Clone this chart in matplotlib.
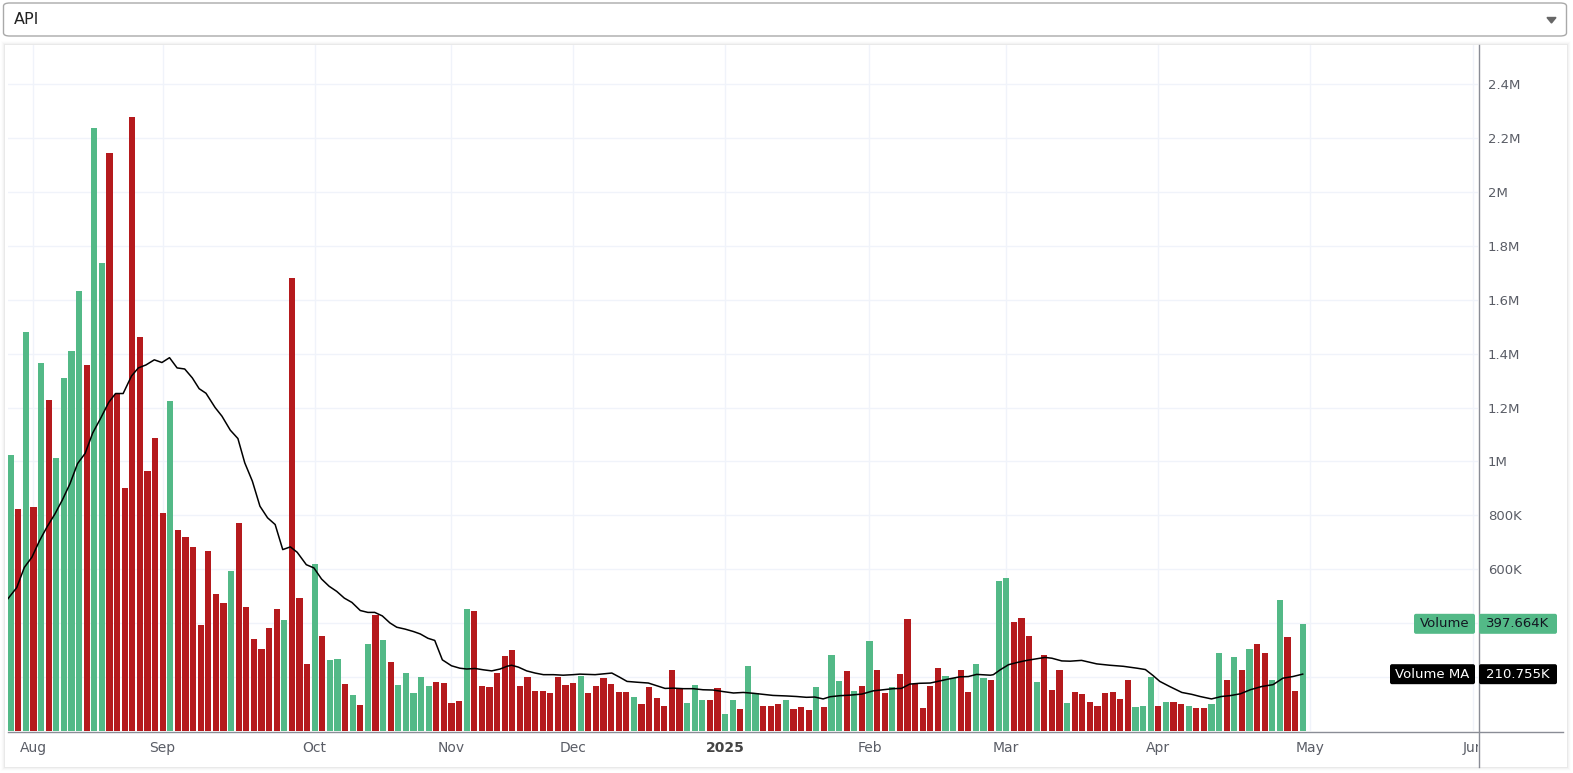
import numpy as np
import matplotlib
matplotlib.use('Agg')
import matplotlib.pyplot as plt
from matplotlib.patches import Rectangle, FancyBboxPatch, Polygon
from matplotlib.lines import Line2D
from matplotlib.ticker import FuncFormatter
from matplotlib.transforms import IdentityTransform, Bbox

# daily volume, millions of shares (one bar per session)
vol = [1.023, 0.822, 1.479, 0.831, 1.364, 1.229, 1.012, 1.308, 1.408, 1.631,
       1.356, 2.236, 1.736, 2.144, 1.249, 0.900, 2.277, 1.460, 0.964, 1.086,
       0.807, 1.226, 0.746, 0.719, 0.682, 0.392, 0.669, 0.509, 0.476, 0.595,
       0.773, 0.461, 0.342, 0.305, 0.383, 0.454, 0.413, 1.680, 0.494, 0.249,
       0.621, 0.353, 0.264, 0.268, 0.175, 0.134, 0.097, 0.323, 0.431, 0.336,
       0.255, 0.172, 0.216, 0.142, 0.201, 0.168, 0.183, 0.179, 0.105, 0.112,
       0.453, 0.446, 0.168, 0.164, 0.216, 0.279, 0.301, 0.168, 0.201, 0.149,
       0.149, 0.142, 0.201, 0.172, 0.179, 0.205, 0.142, 0.168, 0.198, 0.175,
       0.146, 0.146, 0.127, 0.101, 0.164, 0.123, 0.094, 0.227, 0.157, 0.105,
       0.172, 0.116, 0.116, 0.160, 0.064, 0.116, 0.083, 0.242, 0.142, 0.094,
       0.094, 0.101, 0.116, 0.083, 0.090, 0.079, 0.164, 0.090, 0.283, 0.186,
       0.223, 0.149, 0.168, 0.335, 0.227, 0.142, 0.164, 0.212, 0.416, 0.175,
       0.086, 0.168, 0.235, 0.205, 0.196, 0.227, 0.146, 0.249, 0.198, 0.190,
       0.557, 0.568, 0.405, 0.420, 0.353, 0.183, 0.283, 0.153, 0.227, 0.105,
       0.146, 0.138, 0.109, 0.094, 0.142, 0.146, 0.120, 0.190, 0.090, 0.094,
       0.201, 0.094, 0.109, 0.109, 0.101, 0.094, 0.086, 0.086, 0.101, 0.290,
       0.190, 0.275, 0.227, 0.305, 0.323, 0.290, 0.190, 0.486, 0.349, 0.149,
       0.398]
# G = up day, R = down day
updown = ("GRGRGRGGGG" "RGGRRRRRRR" "RGRRRRRRRG" "RRRRRRGRRR" "GRGGRGRGRG"
          "RGGGGGRRRR" "GRRRRRRRRR" "RRRRRGRRRR" "RRGRRRRRRG" "GGRRGGRGGR"
          "RRGRRRGRGG" "RGRGRRGRRR" "RRRGGRRGGR" "GGRRRGRRRG" "RRRRRRRRGG"
          "GRGRRGRRGG" "RGRGRRGGRR" "G")

# volume moving average (bar position, millions)
ma_x = [-0.35, 0.8, 1.8, 2.8, 3.8, 4.8, 5.8, 6.8, 7.8, 8.8, 9.8, 10.8, 11.8,
        12.9, 13.8, 14.8, 15.9, 16.8, 17.8, 18.9, 19.9, 20.9, 21.9, 22.9,
        23.9, 24.8, 25.7, 26.9, 27.8, 28.9, 29.9, 30.8, 31.8, 32.8, 33.8,
        34.8, 35.8, 36.8, 37.7, 38.9, 39.9, 40.9, 41.9, 42.9, 43.9, 44.9,
        46.0, 47.0, 47.9, 48.9, 49.9, 50.8, 51.9, 53.0, 53.9, 54.9, 55.8,
        56.8, 58.0, 59.1, 60.0, 61.1, 62.2, 63.3, 64.4, 65.3, 65.9, 66.8,
        67.9, 69.0, 70.1, 71.4, 72.7, 74.0, 74.9, 76.9, 78.0, 79.1, 80.1,
        81.1, 82.4, 83.9, 85.0, 86.1, 87.2, 88.5, 89.8, 91.1, 92.4, 93.8,
        95.1, 96.4, 97.7, 99.9, 100.3, 102.1, 103.4, 104.7, 105.8, 106.9,
        107.8, 109.1, 110.4, 112.0, 113.5, 114.8, 116.1, 117.2, 118.3, 119.6,
        121.0, 122.3, 123.6, 124.9, 126.0, 127.1, 128.9, 129.3, 130.2, 131.3,
        132.4, 133.7, 135.0, 136.1, 137.0, 138.3, 139.4, 140.9, 142.9, 144.6,
        146.4, 148.2, 149.3, 150.3, 151.2, 152.5, 154.1, 155.4, 156.5, 158.0,
        159.3, 160.4, 161.8, 163.1, 164.6, 166.1, 167.4, 168.7, 170.0]
ma_v = [0.491, 0.532, 0.607, 0.645, 0.706, 0.758, 0.804, 0.857, 0.917, 0.992,
        1.030, 1.106, 1.158, 1.219, 1.252, 1.252, 1.317, 1.347, 1.358, 1.377,
        1.367, 1.385, 1.347, 1.343, 1.310, 1.270, 1.253, 1.200, 1.168, 1.116,
        1.085, 0.995, 0.927, 0.834, 0.791, 0.766, 0.673, 0.683, 0.663, 0.617,
        0.605, 0.564, 0.537, 0.518, 0.493, 0.477, 0.447, 0.440, 0.440, 0.427,
        0.401, 0.385, 0.378, 0.369, 0.360, 0.344, 0.336, 0.264, 0.242, 0.233,
        0.230, 0.232, 0.227, 0.223, 0.230, 0.240, 0.244, 0.237, 0.223, 0.215,
        0.209, 0.209, 0.207, 0.209, 0.211, 0.209, 0.212, 0.215, 0.200, 0.184,
        0.181, 0.178, 0.168, 0.158, 0.159, 0.157, 0.157, 0.153, 0.152, 0.146,
        0.141, 0.143, 0.140, 0.133, 0.132, 0.130, 0.128, 0.125, 0.126, 0.119,
        0.127, 0.131, 0.133, 0.137, 0.149, 0.153, 0.157, 0.158, 0.174, 0.177,
        0.178, 0.186, 0.194, 0.201, 0.202, 0.210, 0.207, 0.209, 0.227, 0.246,
        0.254, 0.262, 0.268, 0.273, 0.270, 0.260, 0.259, 0.262, 0.249, 0.244,
        0.240, 0.233, 0.228, 0.206, 0.184, 0.165, 0.143, 0.136, 0.128, 0.119,
        0.128, 0.131, 0.138, 0.153, 0.165, 0.172, 0.196, 0.202, 0.211]

month_pos = [3, 20, 40, 58, 74, 94, 113, 131, 151, 171, 192.4]
month_lab = ['Aug', 'Sep', 'Oct', 'Nov', 'Dec', '2025', 'Feb', 'Mar', 'Apr', 'May', 'Jun']

last_vol = 0.397664
last_ma = 0.210755

W, H = 1573, 773
GREEN = '#53b987'
RED = '#b51a1d'
GRID = '#f0f3fa'
TXT = '#5a5d66'
AXR = 1478      # x of the price scale border, px
AXB = 731       # y of the time scale border, px

fig = plt.figure(figsize=(W / 100, H / 100), dpi=100)
fig.patch.set_facecolor('white')

def fx(x):
    return x / W

def fy(y):
    return 1 - y / H

# dropdown on top
dd = FancyBboxPatch((fx(3.5), fy(36)), fx(1563), 33 / H,
                    boxstyle='round,pad=0,rounding_size=0.004',
                    transform=fig.transFigure, facecolor='white',
                    edgecolor='#a9a9a9', lw=1)
fig.patches.append(dd)
fig.text(fx(14), fy(20), 'API', fontsize=11.5, color='#222222',
         va='center', ha='left', family='DejaVu Sans')
fig.patches.append(Polygon([[fx(1547), fy(17.5)], [fx(1556), fy(17.5)],
                            [fx(1551.5), fy(23)]], closed=True,
                           transform=fig.transFigure, color='#666666'))

# card with soft shadow
for k, a in enumerate([0.10, 0.06, 0.035, 0.02]):
    d = k + 1
    fig.patches.append(Rectangle((fx(5 - d), fy(767 + d)), (1562 + 2 * d) / W,
                                 (722 + 2 * d) / H, transform=fig.transFigure,
                                 facecolor='#9a9a9a', alpha=a, lw=0, zorder=-3))
fig.patches.append(Rectangle((fx(5), fy(767)), 1562 / W, 722 / H,
                             transform=fig.transFigure, facecolor='white',
                             lw=0, zorder=-2))

ax = fig.add_axes([fx(8), fy(AXB), (AXR - 8) / W, (AXB - 45) / H])
ax.set_facecolor('none')

x = np.arange(len(vol))
cols = [GREEN if c == 'G' else RED for c in updown]
ax.bar(x, vol, width=0.8, color=cols, zorder=2)
ax.plot(ma_x, ma_v, color='black', lw=1.1, zorder=3)

ax.set_xlim(-0.35, (AXR - 10.7) / 7.6)
ax.set_ylim(0, 2.545)

ax.set_xticks(month_pos)
ax.set_xticklabels([])
ax.set_yticks(np.arange(0.2, 2.41, 0.2))
ax.grid(True, color=GRID, lw=1, zorder=0)
ax.yaxis.tick_right()

def fmt(v, pos):
    if v < 0.5:
        return ''
    if v >= 0.999:
        return f'{v:g}M'
    return f'{int(round(v * 1000))}K'

ax.yaxis.set_major_formatter(FuncFormatter(fmt))
ax.tick_params(axis='both', length=0)
ax.tick_params(axis='y', pad=7, labelsize=9.5, labelcolor=TXT)
for lab in ax.get_yticklabels():
    lab.set_family('DejaVu Sans')
for s in ax.spines.values():
    s.set_visible(False)

# month labels under the axis, clipped at the price scale
clip = Bbox.from_extents(0, 0, AXR, H)
for p, lab in zip(month_pos, month_lab):
    t = ax.text(p, -17 / (AXB - 45), lab, ha='center', va='center', fontsize=10,
                color=TXT if lab != '2025' else '#444444',
                fontweight='bold' if lab == '2025' else 'normal',
                family=['Liberation Sans Narrow', 'DejaVu Sans'],
                transform=ax.get_xaxis_transform(), clip_on=True)
    t.set_clip_box(clip)

# scale borders
fig.add_artist(Line2D([fx(8), fx(1563)], [fy(AXB + 0.5), fy(AXB + 0.5)],
                      transform=fig.transFigure, color='#8a8d96', lw=1))
fig.add_artist(Line2D([fx(AXR + 0.5), fx(AXR + 0.5)], [fy(45), fy(767)],
                      transform=fig.transFigure, color='#8a8d96', lw=1))

# last value labels on the price scale
idt = IdentityTransform()

def scale_label(val, name, value_txt, bg, fg, left):
    yc = ax.transData.transform((0, val))[1]
    h = 20
    fig.patches.append(FancyBboxPatch((left, yc - h / 2), AXR - 3 - left, h,
                                      boxstyle='round,pad=0,rounding_size=2',
                                      transform=idt, facecolor=bg, lw=0, zorder=5))
    fig.patches.append(FancyBboxPatch((AXR + 1, yc - h / 2), 1557 - AXR - 1, h,
                                      boxstyle='round,pad=0,rounding_size=2',
                                      transform=idt, facecolor=bg, lw=0, zorder=5))
    fig.text((left + AXR - 3) / 2 / W, yc / H, name, ha='center', va='center',
             fontsize=9.5, color=fg, family='DejaVu Sans', zorder=6)
    fig.text((AXR + 1 + 1557) / 2 / W, yc / H, value_txt, ha='center',
             va='center', fontsize=9.5, color=fg, family='DejaVu Sans', zorder=6)

scale_label(last_vol, 'Volume', f'{last_vol * 1000:.3f}K', GREEN, '#131722', 1414)
scale_label(last_ma, 'Volume MA', f'{last_ma * 1000:.3f}K', 'black', 'white', 1390)

fig.savefig('out.png', dpi=100)
